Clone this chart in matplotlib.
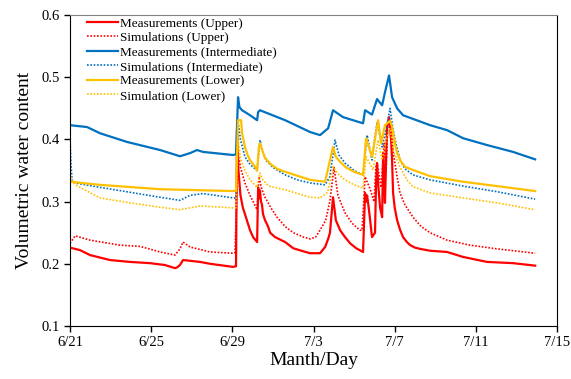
import matplotlib
matplotlib.use("Agg")
import matplotlib.pyplot as plt

plt.rcParams['font.family'] = ['Liberation Serif', 'DejaVu Serif']

# time axis in days after 6/21 00:00
xtick_days = [0, 4, 8, 12, 16, 20, 24]
xtick_labels = ["6/21", "6/25", "6/29", "7/3", "7/7", "7/11", "7/15"]

# upper sensor
meas_upper_t = [0, 0.49, 0.99, 1.97, 2.96, 3.94, 4.68, 5.17, 5.27, 5.42, 5.57, 6.41, 6.90, 8.03, 8.18,
                8.23, 8.30, 8.40, 8.52, 8.62, 8.87, 9.02, 9.22, 9.27, 9.31, 9.36, 9.41, 9.46, 9.51, 9.61,
                9.76, 9.86, 10.1, 10.60, 11.0, 11.5, 11.83, 12.32, 12.57, 12.72, 12.81, 12.96, 13.1, 13.31,
                13.55, 13.80, 14.1, 14.44, 14.54, 14.59, 14.64, 14.70, 14.79, 14.88, 15.03, 15.08, 15.13,
                15.18, 15.28, 15.38, 15.43, 15.48, 15.52, 15.57, 15.62, 15.72, 15.82, 15.87, 15.92, 16.0,
                16.12, 16.26, 16.41, 16.6, 16.76, 17.0, 17.25, 17.74, 18.58, 19.37, 20.55, 21.83, 22.92]
meas_upper = [0.226, 0.222, 0.214, 0.206, 0.203, 0.201, 0.198, 0.193, 0.194, 0.198, 0.206, 0.203, 0.200,
              0.195, 0.196, 0.415, 0.35, 0.31, 0.29, 0.28, 0.254, 0.243, 0.235, 0.323, 0.305, 0.318, 0.30,
              0.295, 0.28, 0.27, 0.26, 0.25, 0.243, 0.235, 0.225, 0.22, 0.217, 0.217, 0.227, 0.24, 0.25,
              0.307, 0.27, 0.254, 0.243, 0.233, 0.225, 0.219, 0.314, 0.30, 0.31, 0.295, 0.27, 0.243, 0.25,
              0.33, 0.362, 0.33, 0.29, 0.275, 0.378, 0.34, 0.298, 0.36, 0.42, 0.436, 0.40, 0.367, 0.314,
              0.29, 0.27, 0.255, 0.243, 0.235, 0.23, 0.226, 0.224, 0.221, 0.219, 0.211, 0.203, 0.201, 0.197]

sim_upper_t = [0, 0.25, 0.99, 2.46, 3.45, 4.44, 5.17, 5.42, 5.57, 5.91, 6.90, 8.03, 8.13, 8.28, 8.40,
               8.62, 8.87, 9.22, 9.31, 9.45, 9.61, 9.9, 10.2, 10.60, 11.0, 11.5, 11.83, 12.1, 12.32, 12.6,
               12.81, 13.01, 13.2, 13.55, 13.9, 14.29, 14.39, 14.54, 14.79, 14.98, 15.08, 15.13, 15.33,
               15.48, 15.57, 15.67, 15.82, 15.92, 16.12, 16.26, 16.5, 16.90, 17.3, 17.74, 18.58, 19.71,
               21.04, 22.92]
sim_upper = [0.233, 0.245, 0.238, 0.23, 0.228, 0.219, 0.214, 0.224, 0.235, 0.227, 0.219, 0.217, 0.218,
             0.38, 0.355, 0.33, 0.31, 0.287, 0.34, 0.32, 0.307, 0.29, 0.275, 0.26, 0.25, 0.243, 0.24,
             0.243, 0.254, 0.27, 0.302, 0.355, 0.31, 0.282, 0.265, 0.254, 0.254, 0.34, 0.32, 0.30, 0.36,
             0.362, 0.323, 0.394, 0.35, 0.431, 0.42, 0.38, 0.34, 0.314, 0.295, 0.275, 0.26, 0.25, 0.238,
             0.23, 0.224, 0.217]

# intermediate sensor
meas_inter_t = [0, 0.84, 1.48, 2.81, 4.44, 5.42, 5.91, 6.26, 6.55, 8.03, 8.18, 8.28, 8.35, 8.48, 8.87,
                9.22, 9.27, 9.36, 10.60, 11.83, 12.32, 12.72, 12.96, 13.45, 14.44, 14.54, 14.64, 14.88,
                15.13, 15.38, 15.52, 15.72, 15.87, 16.12, 16.41, 17.74, 18.58, 19.37, 20.55, 21.83, 22.92]
meas_inter = [0.423, 0.42, 0.41, 0.396, 0.383, 0.373, 0.378, 0.383, 0.38, 0.375, 0.376, 0.468, 0.452,
              0.447, 0.439, 0.431, 0.444, 0.447, 0.431, 0.412, 0.407, 0.418, 0.447, 0.436, 0.426, 0.447,
              0.445, 0.44, 0.465, 0.455, 0.476, 0.503, 0.468, 0.45, 0.439, 0.423, 0.415, 0.402, 0.391,
              0.38, 0.368]

sim_inter_t = [0, 0.05, 0.1, 0.25, 1.48, 4.44, 5.42, 5.91, 6.55, 8.03, 8.18, 8.28, 8.4, 8.62, 8.87,
               9.22, 9.36, 9.5, 9.7, 10.0, 10.60, 11.2, 11.83, 12.57, 12.8, 13.06, 13.25, 13.55, 14.0,
               14.44, 14.64, 14.88, 15.13, 15.38, 15.57, 15.77, 15.9, 16.02, 16.26, 16.5, 16.90, 17.74,
               19.37, 21.04, 22.92]
sim_inter = [0.40, 0.36, 0.335, 0.33, 0.323, 0.307, 0.302, 0.31, 0.313, 0.306, 0.306, 0.43, 0.40, 0.372,
             0.36, 0.35, 0.399, 0.38, 0.365, 0.355, 0.343, 0.335, 0.33, 0.327, 0.34, 0.399, 0.375, 0.362,
             0.35, 0.343, 0.407, 0.367, 0.428, 0.388, 0.415, 0.45, 0.42, 0.399, 0.367, 0.353, 0.343,
             0.335, 0.325, 0.316, 0.304]

# lower sensor
meas_lower_t = [0, 1.48, 4.44, 8.03, 8.18, 8.28, 8.43, 8.48, 8.62, 8.75, 8.87, 9.12, 9.22, 9.31, 9.36,
                9.5, 9.61, 9.9, 10.2, 10.60, 11.83, 12.57, 12.96, 13.1, 13.31, 13.6, 14.0, 14.44, 14.59,
                14.88, 15.18, 15.33, 15.52, 15.77, 15.87, 16.0, 16.12, 16.3, 16.51, 16.90, 17.74, 19.37,
                21.04, 22.92]
meas_lower = [0.332, 0.327, 0.32, 0.317, 0.318, 0.431, 0.431, 0.41, 0.388, 0.375, 0.367, 0.356, 0.35,
              0.388, 0.394, 0.38, 0.37, 0.36, 0.353, 0.348, 0.335, 0.332, 0.388, 0.372, 0.364, 0.355,
              0.348, 0.343, 0.402, 0.372, 0.431, 0.394, 0.423, 0.43, 0.42, 0.395, 0.378, 0.365, 0.356,
              0.351, 0.341, 0.332, 0.325, 0.317]

sim_lower_t = [0, 0.1, 0.25, 1.48, 2.96, 4.44, 5.42, 6.41, 8.03, 8.18, 8.28, 8.4, 8.62, 8.87, 9.22,
               9.36, 9.5, 9.8, 10.60, 11.83, 12.32, 12.7, 12.96, 13.2, 13.55, 14.0, 14.44, 14.59, 14.93,
               15.18, 15.38, 15.57, 15.77, 15.95, 16.26, 16.6, 16.90, 17.25, 17.74, 19.37, 21.04, 22.92]
sim_lower = [0.345, 0.335, 0.327, 0.306, 0.298, 0.291, 0.287, 0.293, 0.29, 0.29, 0.40, 0.37, 0.35,
             0.335, 0.323, 0.346, 0.335, 0.325, 0.319, 0.307, 0.306, 0.315, 0.356, 0.345, 0.335, 0.327,
             0.322, 0.372, 0.351, 0.399, 0.367, 0.399, 0.418, 0.38, 0.356, 0.335, 0.324, 0.32, 0.314,
             0.306, 0.298, 0.287]

red = "#FF0000"
blue = "#0070C0"
yellow = "#FFC000"
dots = (0, (1, 1))

fig = plt.figure(figsize=(5.71, 3.79), dpi=100)
ax = fig.add_axes([0.1226, 0.140, 0.853, 0.820])

ax.plot(meas_upper_t, meas_upper, color=red, lw=1.6, label="Measurements (Upper)")
ax.plot(sim_upper_t, sim_upper, color=red, lw=1.2, ls=dots, label="Simulations (Upper)")
ax.plot(meas_inter_t, meas_inter, color=blue, lw=1.6, label="Measurements (Intermediate)")
ax.plot(sim_inter_t, sim_inter, color=blue, lw=1.2, ls=dots, label="Simulations (Intermediate)")
ax.plot(meas_lower_t, meas_lower, color=yellow, lw=1.6, label="Measurements (Lower)")
ax.plot(sim_lower_t, sim_lower, color=yellow, lw=1.2, ls=dots, label="Simulation (Lower)")

ax.set_xlim(0, 24)
ax.set_ylim(0.1, 0.6)
ax.set_xticks(xtick_days)
ax.set_xticklabels(xtick_labels)
ax.set_yticks([0.1, 0.2, 0.3, 0.4, 0.5, 0.6])
ax.set_yticklabels(["0.1", "0.2", "0.3", "0.4", "0.5", "0.6"])
ax.tick_params(direction="out", length=4, width=1, labelsize=10.5, colors="black")
ax.spines["top"].set_color("#808080")
for s in ["left", "right", "bottom"]:
    ax.spines[s].set_color("black")

ax.set_xlabel("Manth/Day", fontsize=14, labelpad=2)
ax.set_ylabel("Volumetric water content", fontsize=14, labelpad=6)

ax.legend(loc="upper left", bbox_to_anchor=(0.025, 1.01), frameon=False, fontsize=9.5,
          labelspacing=0.17, handlelength=2.3, handletextpad=0.2, borderaxespad=0.0)

fig.savefig("out.png", dpi=100)
